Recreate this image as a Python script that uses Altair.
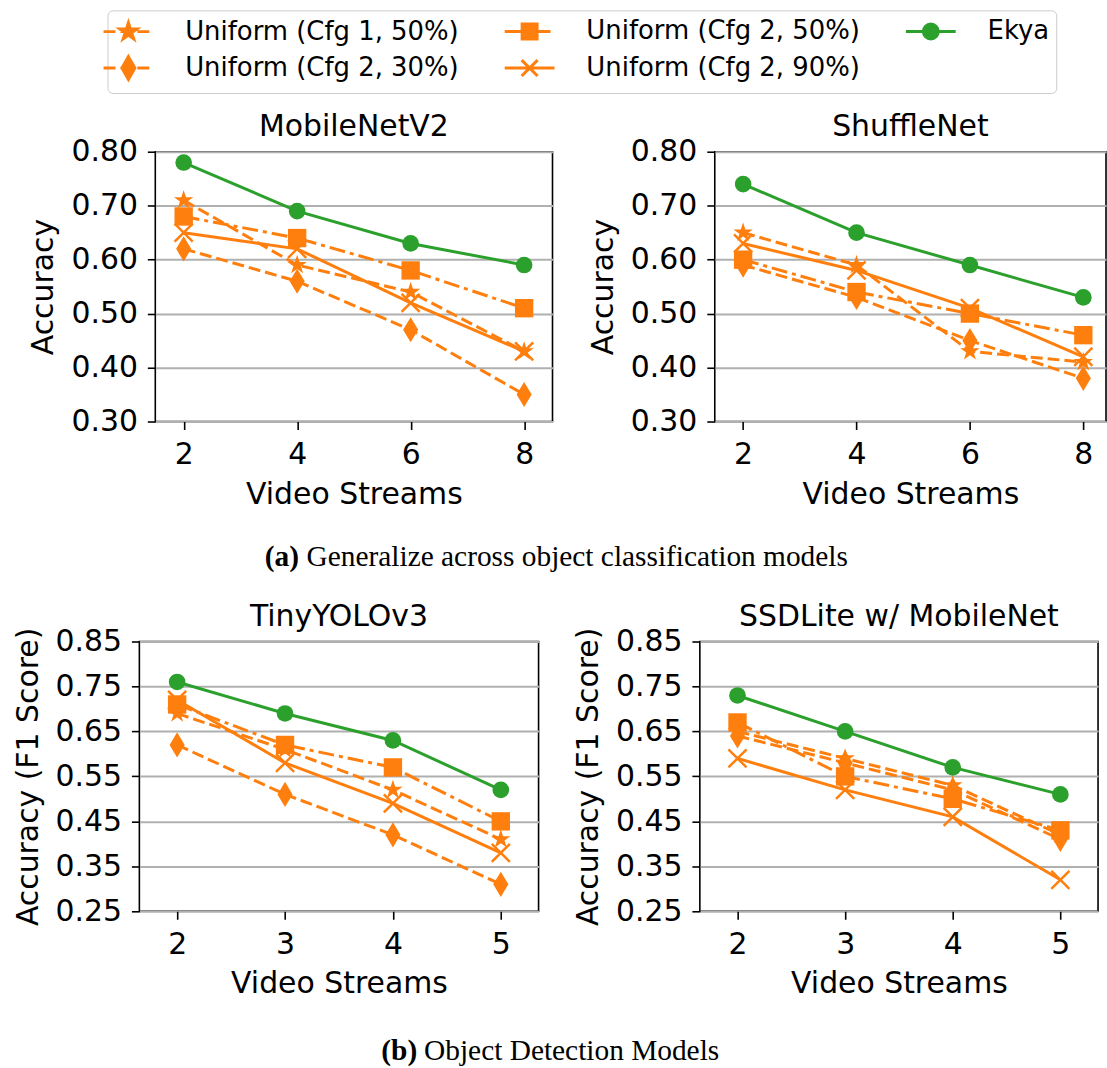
import math

import altair as alt
import pandas as pd

# ---------------------------------------------------------------- data
SERIES = [
    "Uniform (Cfg 1, 50%)",
    "Uniform (Cfg 2, 30%)",
    "Uniform (Cfg 2, 50%)",
    "Uniform (Cfg 2, 90%)",
    "Ekya",
]
# the legend is filled row by row in three columns
LEGEND_ORDER = [
    "Uniform (Cfg 1, 50%)",
    "Uniform (Cfg 2, 50%)",
    "Ekya",
    "Uniform (Cfg 2, 30%)",
    "Uniform (Cfg 2, 90%)",
]

STREAMS_CLS = [2, 4, 6, 8]
STREAMS_DET = [2, 3, 4, 5]

Y_TICKS_CLS = [0.30, 0.40, 0.50, 0.60, 0.70, 0.80]
Y_TICKS_DET = [0.25, 0.35, 0.45, 0.55, 0.65, 0.75, 0.85]

MOBILENET_V2 = {
    "Uniform (Cfg 1, 50%)": [0.71, 0.59, 0.54, 0.43],
    "Uniform (Cfg 2, 30%)": [0.62, 0.56, 0.47, 0.35],
    "Uniform (Cfg 2, 50%)": [0.68, 0.64, 0.58, 0.51],
    "Uniform (Cfg 2, 90%)": [0.65, 0.62, 0.52, 0.43],
    "Ekya": [0.78, 0.69, 0.63, 0.59],
}
SHUFFLENET = {
    "Uniform (Cfg 1, 50%)": [0.65, 0.59, 0.43, 0.41],
    "Uniform (Cfg 2, 30%)": [0.59, 0.53, 0.45, 0.38],
    "Uniform (Cfg 2, 50%)": [0.60, 0.54, 0.50, 0.46],
    "Uniform (Cfg 2, 90%)": [0.63, 0.58, 0.51, 0.42],
    "Ekya": [0.74, 0.65, 0.59, 0.53],
}
TINY_YOLO_V3 = {
    "Uniform (Cfg 1, 50%)": [0.69, 0.61, 0.52, 0.41],
    "Uniform (Cfg 2, 30%)": [0.62, 0.51, 0.42, 0.31],
    "Uniform (Cfg 2, 50%)": [0.71, 0.62, 0.57, 0.45],
    "Uniform (Cfg 2, 90%)": [0.72, 0.58, 0.49, 0.38],
    "Ekya": [0.76, 0.69, 0.63, 0.52],
}
SSDLITE_MOBILENET = {
    "Uniform (Cfg 1, 50%)": [0.65, 0.59, 0.53, 0.42],
    "Uniform (Cfg 2, 30%)": [0.64, 0.58, 0.52, 0.41],
    "Uniform (Cfg 2, 50%)": [0.67, 0.55, 0.50, 0.43],
    "Uniform (Cfg 2, 90%)": [0.59, 0.52, 0.46, 0.32],
    "Ekya": [0.73, 0.65, 0.57, 0.51],
}

# ---------------------------------------------------------------- styles
ORANGE = "#ff7f0e"
GREEN = "#2ca02c"
FONT = "DejaVu Sans"
SERIF = "Liberation Serif"


def star_path(r_out, r_in):
    pts = []
    for k in range(10):
        r = r_out if k % 2 == 0 else r_in
        a = math.radians(-90 + 36 * k)
        pts.append((r * math.cos(a), r * math.sin(a)))
    return "M" + "L".join(f"{x:.3f},{y:.3f}" for x, y in pts) + "Z"


def circle_path(r):
    return f"M{r:.3f},0A{r:.3f},{r:.3f},0,1,1,{-r:.3f},0A{r:.3f},{r:.3f},0,1,1,{r:.3f},0Z"


def square_path(h):
    return f"M{-h:.3f},{-h:.3f}H{h:.3f}V{h:.3f}H{-h:.3f}Z"


def diamond_path(hw, hh):
    return f"M0,{-hh:.3f}L{hw:.3f},0L0,{hh:.3f}L{-hw:.3f},0Z"


def cross_path(h):
    return f"M{-h:.3f},{-h:.3f}L{h:.3f},{h:.3f}M{-h:.3f},{h:.3f}L{h:.3f},{-h:.3f}"


STYLE = {
    "Uniform (Cfg 1, 50%)": dict(color=ORANGE, dash=[12, 5], shape=star_path(1, 0.382), size=420, filled=True),
    "Uniform (Cfg 2, 30%)": dict(color=ORANGE, dash=[12, 5], shape=diamond_path(0.6, 1), size=640, filled=True),
    "Uniform (Cfg 2, 50%)": dict(color=ORANGE, dash=[16, 5, 4, 5], shape="square", size=340, filled=True),
    "Uniform (Cfg 2, 90%)": dict(color=ORANGE, dash=None, shape=cross_path(1), size=330, filled=False),
    "Ekya": dict(color=GREEN, dash=None, shape="circle", size=280, filled=True),
}

# legend glyphs: a short line sample with the marker in its middle
LEG_SIZE = 625.0
LEG_UNIT = math.sqrt(LEG_SIZE) / 2   # px per path unit
LEG_HALF = 25.0                      # half length of the line sample in px


def line_sample(pattern):
    if not pattern:
        return f"M{-LEG_HALF / LEG_UNIT:.3f},0H{LEG_HALF / LEG_UNIT:.3f}"
    segs, x, i = [], -LEG_HALF, 0
    while x < LEG_HALF:
        length = pattern[i % len(pattern)]
        if i % 2 == 0:
            segs.append((x, min(x + length, LEG_HALF)))
        x += length
        i += 1
    return "".join(f"M{a / LEG_UNIT:.3f},0H{b / LEG_UNIT:.3f}" for a, b in segs)


LEGEND_MARKERS = {
    "Uniform (Cfg 1, 50%)": star_path(9 / LEG_UNIT, 9 * 0.382 / LEG_UNIT),
    "Uniform (Cfg 2, 30%)": diamond_path(6.5 / LEG_UNIT, 11.5 / LEG_UNIT),
    "Uniform (Cfg 2, 50%)": square_path(7.5 / LEG_UNIT),
    "Uniform (Cfg 2, 90%)": cross_path(8 / LEG_UNIT),
    "Ekya": circle_path(7.5 / LEG_UNIT),
}
LEGEND_SHAPES = [line_sample(STYLE[s]["dash"]) + LEGEND_MARKERS[s] for s in LEGEND_ORDER]
LEGEND_COLORS = [STYLE[s]["color"] for s in LEGEND_ORDER]


def legend_layer():
    df = pd.DataFrame({"series": LEGEND_ORDER, "streams": [2] * 5, "value": [0.5] * 5})
    leg = alt.Legend(
        title=None,
        orient="none",
        legendX=98,
        legendY=-142,
        direction="horizontal",
        columns=3,
        symbolSize=LEG_SIZE,
        symbolStrokeWidth=3,
        labelFont=FONT,
        labelFontSize=26,
        labelColor="black",
        labelLimit=600,
        labelOffset=43,
        rowPadding=5,
        columnPadding=40,
        padding=7,
        strokeColor="#cccccc",
        cornerRadius=5,
        fillColor="white",
    )
    return (
        alt.Chart(df)
        .transform_filter("false")
        .mark_point(filled=True, opacity=1)
        .encode(
            x="streams:Q",
            y="value:Q",
            fill=alt.Fill("series:N", scale=alt.Scale(domain=LEGEND_ORDER, range=LEGEND_COLORS), legend=leg),
            stroke=alt.Stroke("series:N", scale=alt.Scale(domain=LEGEND_ORDER, range=LEGEND_COLORS), legend=leg),
            shape=alt.Shape("series:N", scale=alt.Scale(domain=LEGEND_ORDER, range=LEGEND_SHAPES), legend=leg),
        )
    )


def panel(data, streams, title, x_domain, y_domain, y_ticks, y_title, width, height, extra=()):
    x = alt.X(
        "streams:Q",
        scale=alt.Scale(domain=x_domain, nice=False, zero=False),
        axis=alt.Axis(values=streams, format="d", title="Video Streams", grid=False),
    )
    y = alt.Y(
        "value:Q",
        scale=alt.Scale(domain=y_domain, nice=False, zero=False),
        axis=alt.Axis(values=y_ticks, format=".2f", title=y_title, grid=True),
    )
    layers = []
    for s in SERIES:
        st = STYLE[s]
        src = alt.Chart(pd.DataFrame({"streams": streams, "value": data[s]}))
        line_kw = dict(color=st["color"], strokeWidth=3)
        if st["dash"]:
            line_kw["strokeDash"] = st["dash"]
        layers.append(src.mark_line(**line_kw).encode(x=x, y=y))
        layers.append(
            src.mark_point(
                shape=st["shape"], size=st["size"], filled=st["filled"],
                color=st["color"], opacity=1, strokeWidth=2.5,
            ).encode(x=x, y=y)
        )
    # panel heading, centred just above the frame
    heading = alt.Chart(pd.DataFrame({"name": [title]})).mark_text(
        font=FONT, fontSize=30, color="black", align="center", baseline="alphabetic"
    ).encode(text="name:N", x=alt.value(width / 2), y=alt.value(-16))
    return alt.layer(*layers, heading, *extra).properties(
        width=width,
        height=height,
        view=alt.ViewBackground(stroke="black", strokeWidth=1.6),
    )


def spacer(width):
    """Empty strip that indents a row of panels."""
    return (
        alt.Chart(pd.DataFrame({"v": [0]}))
        .mark_rect(opacity=0)
        .encode(x=alt.value(0), x2=alt.value(width), y=alt.value(0), y2=alt.value(1))
        .properties(width=width, height=1, view=alt.ViewBackground(strokeOpacity=0))
    )


def caption(tag, text, width, height, x, y, tag_width):
    df = pd.DataFrame({"tag": [tag], "text": [text]})
    base = alt.Chart(df)
    t1 = base.mark_text(
        align="left", baseline="alphabetic", font=SERIF, fontSize=29.5, fontWeight="bold", color="black"
    ).encode(text="tag:N", x=alt.value(x), y=alt.value(y))
    t2 = base.mark_text(
        align="left", baseline="alphabetic", font=SERIF, fontSize=29.5, color="black"
    ).encode(text="text:N", x=alt.value(x + tag_width), y=alt.value(y))
    return alt.layer(t1, t2).properties(
        width=width, height=height, view=alt.ViewBackground(strokeOpacity=0)
    )


top_left = panel(MOBILENET_V2, STREAMS_CLS, "MobileNetV2", [1.5, 8.5], [0.30, 0.80],
                 Y_TICKS_CLS, "Accuracy", 399, 271, extra=(legend_layer(),))
top_right = panel(SHUFFLENET, STREAMS_CLS, "ShuffleNet", [1.5, 8.4], [0.30, 0.80],
                  Y_TICKS_CLS, "Accuracy", 393, 271)
bottom_left = panel(TINY_YOLO_V3, STREAMS_DET, "TinyYOLOv3", [1.65, 5.35], [0.25, 0.85],
                    Y_TICKS_DET, "Accuracy (F1 Score)", 401, 271)
bottom_right = panel(SSDLITE_MOBILENET, STREAMS_DET, "SSDLite w/ MobileNet", [1.65, 5.35], [0.25, 0.85],
                     Y_TICKS_DET, "Accuracy (F1 Score)", 400, 271)

row_a = alt.hconcat(spacer(18), alt.hconcat(top_left, top_right, spacing=34), spacing=0)
row_b = alt.hconcat(spacer(2), alt.hconcat(bottom_left, bottom_right, spacing=33), spacing=0)

cap_a = caption("(a)", "Generalize across object classification models", 650, 91, 256, 56, 42)
cap_b = caption("(b)", "Object Detection Models", 650, 60, 373, 60, 43)

chart = (
    alt.concat(row_a, cap_a, row_b, cap_b, columns=1, align="none", spacing=0)
    .properties(padding={"left": 10, "top": 7, "right": 0, "bottom": 0})
    .configure(font=FONT)
    .configure_axis(
        labelFont=FONT, labelFontSize=30, labelColor="black",
        titleFont=FONT, titleFontSize=30, titleFontWeight="normal", titleColor="black",
        tickColor="black", tickWidth=1.6, tickSize=8, domain=False,
        gridColor="#b0b0b0", gridWidth=2, labelFlush=False, labelOverlap=False,
    )
    .configure_axisX(labelPadding=10, titlePadding=10)
    .configure_axisY(labelPadding=10, titlePadding=12)
)

chart.save("out.html", embed_options={"renderer": "svg", "actions": False})
